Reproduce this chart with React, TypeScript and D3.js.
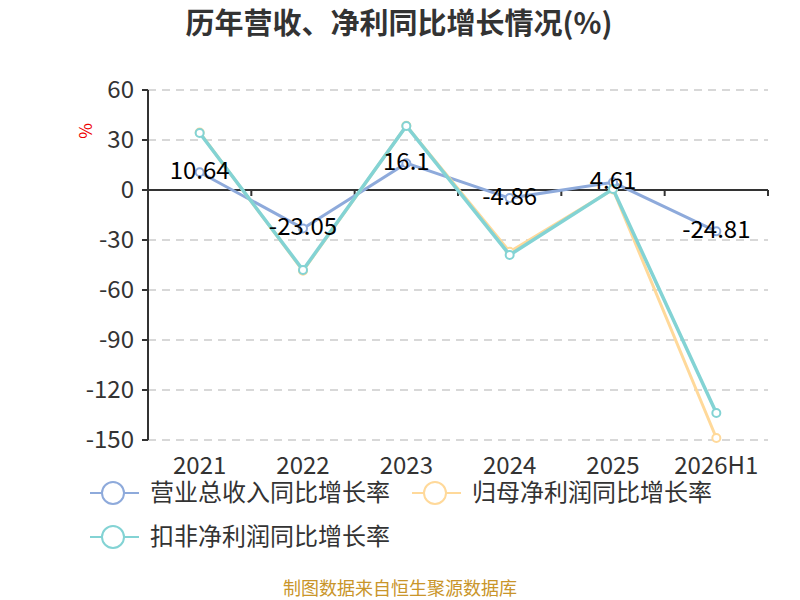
import React from "react";
import * as d3 from "d3";

const categories = ["2021", "2022", "2023", "2024", "2025", "2026H1"];
const revenueGrowth = [10.64, -23.05, 16.1, -4.86, 4.61, -24.81];
const netProfitGrowth = [34.5, -48.5, 38.5, -37, 0.3, -148.8];
const deductedGrowth = [34.2, -48, 38.4, -39, 0.6, -133.8];
const yTicks = [60, 30, 0, -30, -60, -90, -120, -150];
const seriesNames = ["营业总收入同比增长率", "归母净利润同比增长率", "扣非净利润同比增长率"];
const seriesColors = ["#8eaadb", "#ffd99a", "#83d3d4"];

const W = 800, H = 600;
const left = 148, right = 768, top = 90, bottom = 440;
const FONT = "'Noto Sans CJK SC', 'Noto Sans', sans-serif";

export default function App() {
  const x = d3.scaleBand<string>().domain(categories).range([left, right]);
  const y = d3.scaleLinear().domain([-150, 60]).range([bottom, top]);
  const cx = (c: string) => (x(c) as number) + x.bandwidth() / 2;
  const line = d3
    .line<number>()
    .x((_, i) => cx(categories[i]))
    .y((v) => y(v));
  const allSeries = [revenueGrowth, netProfitGrowth, deductedGrowth];
  const boundaries = categories.map((c) => x(c) as number).concat([right]);
  const legendPos = [
    [90, 493],
    [412, 493],
    [90, 537],
  ];

  return (
    <div style={{ position: "absolute", left: 0, top: 0 }}>
      <svg width={W} height={H} style={{ fontFamily: FONT, display: "block" }}>
        <rect width={W} height={H} fill="#fff" />
        <text x={399} y={34} textAnchor="middle" fontSize={29} fontWeight="bold" fill="#333">
          历年营收、净利同比增长情况(%)
        </text>
        {/* grid */}
        {yTicks.filter((t) => t !== 0).map((t) => (
          <line key={t} x1={left} x2={right} y1={y(t)} y2={y(t)} stroke="#ccc" strokeWidth={1.5} strokeDasharray="8,6" />
        ))}
        {/* y axis */}
        <line x1={left} x2={left} y1={top} y2={bottom} stroke="#333" strokeWidth={2} />
        {yTicks.map((t) => (
          <g key={t}>
            <line x1={left - 6} x2={left} y1={y(t)} y2={y(t)} stroke="#333" strokeWidth={2} />
            <text x={134} y={y(t)} dy="0.35em" textAnchor="end" fontSize={24} fill="#333">
              {t}
            </text>
          </g>
        ))}
        <text transform={`translate(92,131) rotate(-90)`} textAnchor="middle" fontSize={17} fill="#e00">
          %
        </text>
        {/* x axis at zero */}
        <line x1={left} x2={right} y1={y(0)} y2={y(0)} stroke="#333" strokeWidth={2} />
        {boundaries.map((b, i) => (
          <line key={i} x1={b} x2={b} y1={y(0)} y2={y(0) + 6} stroke="#333" strokeWidth={2} />
        ))}
        {categories.map((c) => (
          <text key={c} x={cx(c)} y={474} textAnchor="middle" fontSize={24} fill="#333">
            {c}
          </text>
        ))}
        {/* lines */}
        {allSeries.map((s, si) => (
          <g key={si}>
            <path d={line(s) || ""} fill="none" stroke={seriesColors[si]} strokeWidth={si === 2 ? 3.5 : 3} />
            {s.map((v, i) => (
              <circle key={i} cx={cx(categories[i])} cy={y(v)} r={4} fill="#fff" stroke={seriesColors[si]} strokeWidth={2} />
            ))}
          </g>
        ))}
        {/* labels for revenue */}
        {revenueGrowth.map((v, i) => (
          <text key={i} x={cx(categories[i])} y={y(v) - 2} dy="0.35em" textAnchor="middle" fontSize={24} fill="#000">
            {v}
          </text>
        ))}
        {/* legend */}
        {seriesNames.map((n, i) => {
          const [lx, ly] = legendPos[i];
          return (
            <g key={n}>
              <line x1={lx} x2={lx + 49} y1={ly} y2={ly} stroke={seriesColors[i]} strokeWidth={2} />
              <circle cx={lx + 23} cy={ly} r={11} fill="#fff" stroke={seriesColors[i]} strokeWidth={2} />
              <text x={lx + 60} y={ly} dy="0.35em" fontSize={24} fill="#333">
                {n}
              </text>
            </g>
          );
        })}
        <text x={400} y={595} textAnchor="middle" fontSize={18} fill="#c9952a">
          制图数据来自恒生聚源数据库
        </text>
      </svg>
    </div>
  );
}
